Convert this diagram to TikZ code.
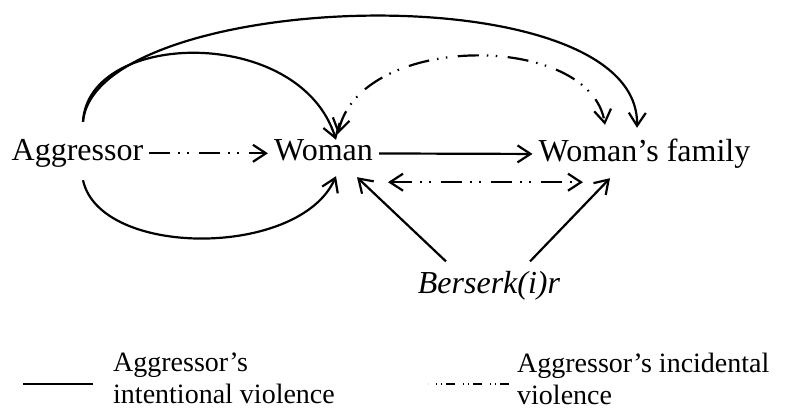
\documentclass[tikz,border=0pt]{standalone}
\usepackage{fontspec}
\setmainfont{Liberation Serif}
\usetikzlibrary{arrows.meta}
\tikzset{
	lbl/.style={inner sep=6pt,font=\fontsize{32}{38}\selectfont,text height=22.4pt,text depth=7pt},
	legtext/.style={inner sep=0pt,align=left,font=\fontsize{28}{32}\selectfont},
	barb/.tip={Straight Barb[length=13pt,width=17pt]},
	intl/.style={line width=2.2pt,-barb},
	incd/.style={line width=2.2pt,dash pattern=on 21pt off 8pt on 1.5pt off 7.5pt on 1.5pt off 10.5pt,-barb},
}
\begin{document}
\begin{tikzpicture}[x=1pt,y=1pt]
	\useasboundingbox (0,0) rectangle (787,410);
	% the three parties
	\node[lbl,anchor=base] (aggr) at (77.5,249) {Aggressor};
	\node[lbl,anchor=base] (woman) at (323.5,249) {Woman};
	\node[lbl,anchor=base] (family) at (644.5,248) {Woman's family};
	\node[lbl,anchor=base] (bers) at (489,117) {\itshape Berserk(i)r};
	% straight links
	\draw[incd] (aggr) -- (woman);
	\draw[intl] (woman) -- (family);
	\draw[incd,barb-barb] ([shift={(64.5,-8)}]woman.south) -- ([shift={(-61.5,-7)}]family.south);
	\draw[intl] ([shift={(-43,3)}]bers.north) -- ([shift={(33.5,-3)}]woman.south);
	\draw[intl] ([shift={(41,3)}]bers.north) -- ([shift={(-34.5,-3)}]family.south);
	% curved links
	\draw[intl] ([shift={(5.5,10.6)}]aggr.north) .. controls +(5,92) and +(-36,115) .. ([shift={(12.5,-7.4)}]woman.north);
	\draw[intl] ([shift={(5.5,10.6)}]aggr.north) .. controls +(12,132) and +(3,158) .. ([shift={(-7.5,5.6)}]family.north);
	\draw[intl] ([shift={(5.5,-6)}]aggr.south) .. controls +(17,-78) and +(-36,-82) .. ([shift={(12.5,-2)}]woman.south);
	\draw[incd,barb-barb] ([shift={(14.5,-1.4)}]woman.north) .. controls +(22,102) and +(-15,93) .. ([shift={(-39.5,8.6)}]family.north);
	% legend
	\node[legtext,anchor=north west] (keyintl) at (113,57) {Aggressor's\\intentional violence};
	\node[legtext,anchor=north west] (keyincd) at (517,57) {Aggressor's incidental\\violence};
	\draw[line width=1.5pt] ([xshift=-20]keyintl.west |- 0,26) -- +(-70,0);
	\draw[line width=1.2pt,dash pattern=on 9pt off 4pt on 1pt off 4pt on 1pt off 8pt] ([xshift=-8]keyincd.west |- 0,26) -- +(-81,0);
\end{tikzpicture}
\end{document}
